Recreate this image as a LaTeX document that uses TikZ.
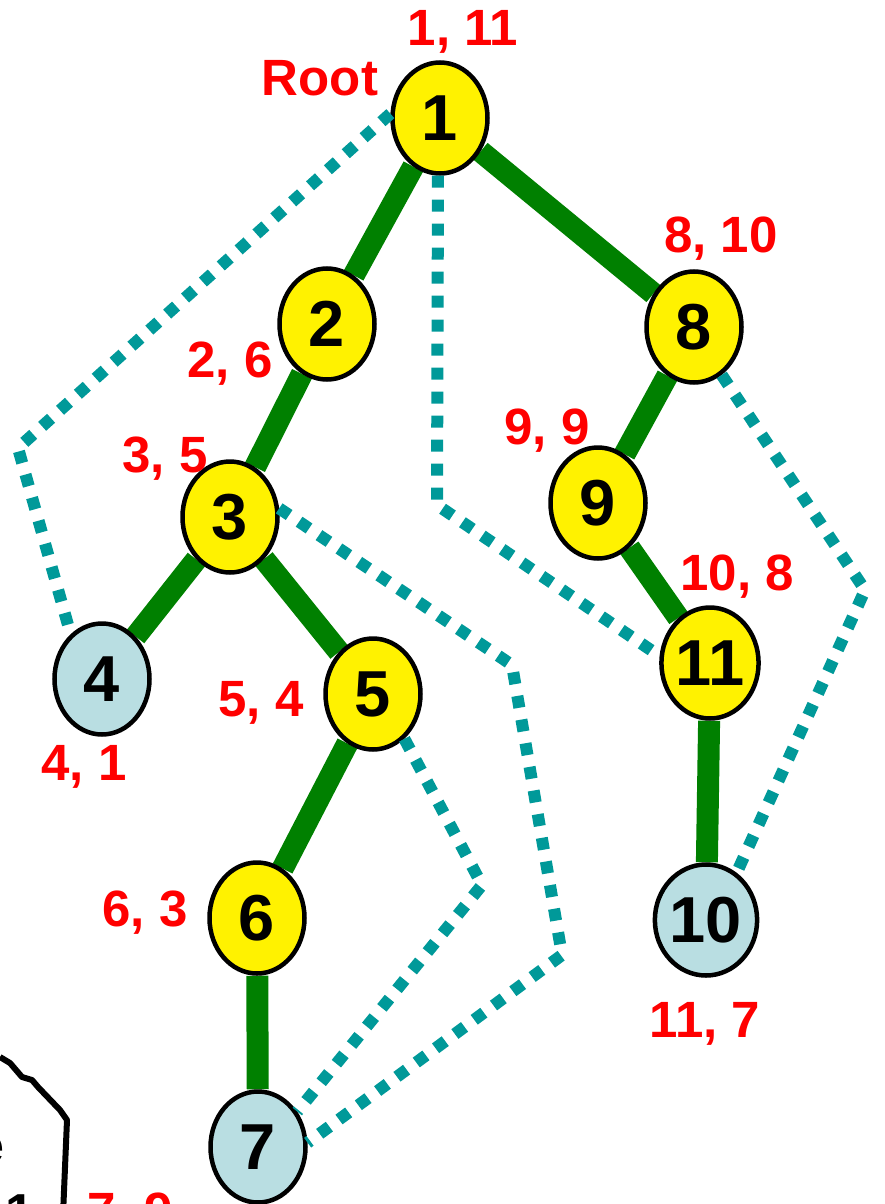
\documentclass[tikz,border=0pt]{standalone}
\usepackage{fontspec}
\setmainfont{Liberation Sans}
\usetikzlibrary{shapes.geometric, positioning}
\definecolor{treegreen}{RGB}{0, 128, 0}
\definecolor{backteal}{RGB}{0, 153, 153}
\definecolor{leafblue}{RGB}{185, 222, 226}
\definecolor{visitred}{RGB}{255, 0, 0}
\pgfdeclarelayer{bg}
\pgfsetlayers{bg,main}

\begin{document}
\begin{tikzpicture}[x=1pt, y=-1pt,
    vertex/.style={ellipse, draw=black, line width=4.5pt, fill=yellow, minimum width=95pt, minimum height=111pt, inner sep=0pt, font=\fontsize{65}{65}\selectfont\bfseries},
    leaf/.style={vertex, fill=leafblue},
    tree/.style={treegreen, line width=22pt},
    back/.style={backteal, line width=12pt, dash pattern=on 12pt off 12pt},
    order/.style={visitred, anchor=base, font=\fontsize{51}{51}\selectfont\bfseries}]
    \useasboundingbox (0,0) rectangle (884,1204);

    % Vertices
    \node[vertex] (n1) at (440,118) {1};
    \node[vertex] (n2) at (327,324) {2};
    \node[vertex] (n8) at (694,327) {8};
    \node[vertex] (n3) at (230,517) {3};
    \node[vertex] (n9) at (598,503) {9};
    \node[leaf]   (n4) at (102,679) {4};
    \node[vertex] (n5) at (373,694) {5};
    \node[vertex] (n11) at (710,663) {11};
    \node[vertex] (n6) at (257,918) {6};
    \node[leaf]   (n10) at (706,920) {10};
    \node[leaf]   (n7) at (258,1147) {7};

    % Tree edges
    \begin{pgfonlayer}{bg}
        \draw[tree] (n1) -- (n2);
        \draw[tree] (n2) -- (n3);
        \draw[tree] (n3) -- (n4);
        \draw[tree] (n3) -- (n5);
        \draw[tree] (n5) -- (n6);
        \draw[tree] (n6) -- (n7);
        \draw[tree] (n1) -- (n8);
        \draw[tree] (n8) -- (n9);
        \draw[tree] (n9) -- (n11);
        \draw[tree] (n11) -- (n10);
    \end{pgfonlayer}

    % Back edges
    \coordinate (b14) at (18,448);
    \coordinate (b111) at (437,505);
    \coordinate (b37a) at (512,665);
    \coordinate (b37b) at (562,955);
    \coordinate (b57) at (482,885);
    \coordinate (b810) at (865,590);
    \draw[back] (n1.175) -- (b14) -- (n4.125);
    \draw[back] (n1.-92) -- (b111) -- (n11.172);
    \draw[back] (n3.10) -- (b37a) -- (b37b) -- (n7.5);
    \draw[back] (n5.-55) -- (b57) -- (n7.42);
    \draw[back] (n8.-60) -- (b810) -- (n10.57);

    % Visit numbers
    \node[order] (l1) at (463,46) {1, 11};
    \node[order] (root) at (320,96) {Root};
    \node[order] (l8) at (721,252) {8, 10};
    \node[order] (l2) at (230,377) {2, 6};
    \node[order] (l9) at (547,444) {9, 9};
    \node[order] (l3) at (165,472) {3, 5};
    \node[order] (l11) at (737,590) {10, 8};
    \node[order] (l5) at (261,716) {5, 4};
    \node[order] (l4) at (84,780) {4, 1};
    \node[order] (l6) at (145,926) {6, 3};
    \node[order] (l10) at (705,1037) {11, 7};
    \node[order] (l7) at (130,1228) {7, 9};

    % Cut-off outline, lower left
    \draw[line width=6pt, line join=round] (0,1057) -- (10,1063) -- (22,1077) -- (32,1080) -- (38,1087) -- (60,1110) -- (67,1120) -- (63,1215);
    \node[anchor=base, font=\fontsize{52}{52}\selectfont\bfseries] (pe) at (-10,1163) {e};
    \node[anchor=base, font=\fontsize{52}{52}\selectfont\bfseries] (p1) at (20,1230) {1};
\end{tikzpicture}
\end{document}
